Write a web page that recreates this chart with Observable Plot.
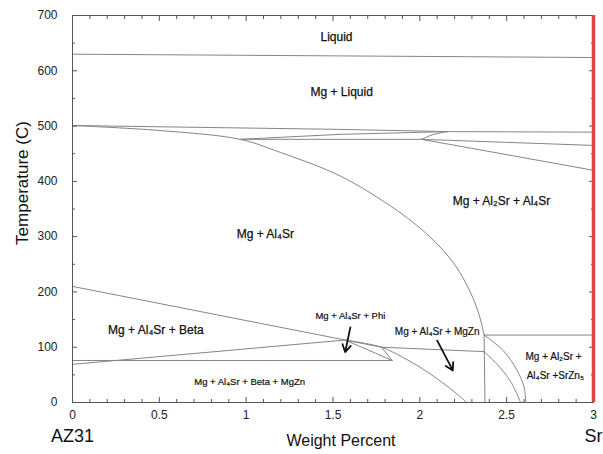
<!DOCTYPE html>
<html><head><meta charset="utf-8">
<script src="https://cdn.jsdelivr.net/npm/d3@7"></script>
<script src="https://cdn.jsdelivr.net/npm/@observablehq/plot@0.6"></script>
<style>
body{margin:0;background:#fff;}
svg{font-family:"Liberation Sans",Arial,"DejaVu Sans",sans-serif;}
</style>
</head><body><div id="chart"></div>
<script>
// ---- axis ticks ----
const xTicks = [0, 0.5, 1, 1.5, 2, 2.5, 3];
const xMinorTicks = [0.1,0.2,0.3,0.4,0.6,0.7,0.8,0.9,1.1,1.2,1.3,1.4,1.6,1.7,1.8,1.9,2.1,2.2,2.3,2.4,2.6,2.7,2.8,2.9];
const yTicks = [0, 100, 200, 300, 400, 500, 600, 700];
const yMinorTicks = [50, 150, 250, 350, 450, 550, 650];
const endLabels = ["AZ31", "Sr"];
const endPositions = [0, 3];
const xTitle = "Weight Percent";
const yTitle = "Temperature (C)";

// ---- phase boundaries [weight %, temperature C] ----
const liquidus = [[0, 630], [3, 624]];
const solidusTop = [[0, 501], [1.54, 494], [2.16, 490], [3, 489]];
const tieUpper = [[0.965, 476], [1.54, 485], [2.16, 490]];
const tie475 = [[0.965, 476], [2.01, 476], [3, 465]];
const connector = [[2.01, 476], [2.08, 485], [2.16, 490]];
const al2srBoundary = [[2.01, 476], [3, 420]];
const al4srSolvus = [[0, 501], [0.5, 492], [0.965, 476], [1.2, 452], [1.54, 410], [1.87, 347], [2.06, 299], [2.2, 250], [2.29, 200], [2.34, 160], [2.363, 132], [2.37, 122]];
const verticalBoundary = [[2.37, 122], [2.375, 0]];
const line122 = [[2.37, 122], [3, 122]];
const betaUpperStraight = [[0, 210], [1.57, 113], [1.78, 100]];
const betaUpperCurve = [[1.57, 113], [1.78, 100], [1.9, 82], [2.0, 64], [2.1, 43], [2.2, 19], [2.27, 0]];
const betaLower = [[0, 69], [1.57, 113]];
const line76 = [[0, 76], [1.84, 76]];
const phiSide = [[1.57, 113], [1.84, 76]];
const mgznSide = [[1.78, 100], [1.84, 76]];
const mgznTop = [[1.78, 100], [2.37, 92]];
const arcOuter = [[2.37, 122], [2.48, 94], [2.56, 58], [2.60, 28], [2.61, 0]];
const arcInner = [[2.37, 92], [2.46, 64], [2.53, 34], [2.58, 0]];

const straightLines = [liquidus, solidusTop, tieUpper, tie475, al2srBoundary, verticalBoundary, line122, betaUpperStraight, betaLower, line76, phiSide, mgznSide, mgznTop];
const curvedLines = [connector, al4srSolvus, betaUpperCurve, arcOuter, arcInner];

// ---- region labels ----
const bigLabels = ["Liquid", "Mg + Liquid", "Mg + Al₄Sr", "Mg + Al₂Sr + Al₄Sr", "Mg + Al₄Sr + Beta"];
const bigLabelX = [1.52, 1.55, 1.11, 2.47, 0.48];
const bigLabelY = [660, 562, 304, 365, 130];
const smallLabels = ["Mg + Al₄Sr + Phi", "Mg + Al₄Sr + MgZn", "Mg + Al₄Sr + Beta + MgZn", "Mg + Al₂Sr +", "Al₄Sr +SrZn₅"];
const smallLabelX = [1.60, 2.10, 1.02, 2.77, 2.78];
const smallLabelY = [156, 127, 38, 82, 48];
const smallLabelSize = [9.5, 10, 9.5, 10, 10];

// ---- arrows ----
const arrowFrom = [[1.60, 136], [2.10, 112]];
const arrowTo = [[1.57, 91], [2.19, 58]];

const bigData = bigLabels.map((t, i) => ({t, x: bigLabelX[i], y: bigLabelY[i]}));
const smallData = smallLabels.map((t, i) => ({t, x: smallLabelX[i], y: smallLabelY[i], s: smallLabelSize[i]}));
const arrowData = arrowFrom.map((a, i) => ({x1: a[0], y1: a[1], x2: arrowTo[i][0], y2: arrowTo[i][1]}));

const lineColor = "#858585";
const marks = [];
straightLines.forEach(l => marks.push(Plot.line(l, {x: d => d[0], y: d => d[1], stroke: lineColor, strokeWidth: 1})));
curvedLines.forEach(l => marks.push(Plot.line(l, {x: d => d[0], y: d => d[1], stroke: lineColor, strokeWidth: 1, curve: "catmull-rom"})));

marks.push(
  Plot.text(bigData, {x: "x", y: "y", text: "t", fontSize: 12, fill: "#111", stroke: "#111", strokeWidth: 0.25}),
  Plot.text(smallData, {x: "x", y: "y", text: "t", fontSize: d => d.s, fill: "#111", stroke: "#111", strokeWidth: 0.2}),
  Plot.arrow(arrowData, {x1: "x1", y1: "y1", x2: "x2", y2: "y2", stroke: "#111", strokeWidth: 1.8, headLength: 7, bend: 0}),
  Plot.frame({stroke: "#555"}),
  // bottom axis
  Plot.axisX(xTicks, {anchor: "bottom", tickSize: -5, tickPadding: 13, fontSize: 12, fill: "#222", stroke: "#555", tickFormat: d => String(d), label: null}),
  Plot.axisX(xMinorTicks, {anchor: "bottom", tickSize: -3, stroke: "#555", tickFormat: () => "", label: null}),
  Plot.axisX(endPositions, {anchor: "bottom", tickSize: 0, tickPadding: 27, fontSize: 18, fill: "#111", tickFormat: (d, i) => endLabels[i], label: null}),
  // top axis
  Plot.axisX(xTicks, {anchor: "top", tickSize: -5, stroke: "#555", tickFormat: () => "", label: null}),
  Plot.axisX(xMinorTicks, {anchor: "top", tickSize: -3, stroke: "#555", tickFormat: () => "", label: null}),
  // left axis
  Plot.axisY(yTicks, {anchor: "left", tickSize: -5, tickPadding: 20, fontSize: 12, fill: "#222", stroke: "#555", label: null}),
  Plot.axisY(yMinorTicks, {anchor: "left", tickSize: -3, stroke: "#555", tickFormat: () => "", label: null}),
  // right axis
  Plot.axisY(yTicks, {anchor: "right", tickSize: -5, stroke: "#555", tickFormat: () => "", label: null}),
  Plot.axisY(yMinorTicks, {anchor: "right", tickSize: -3, stroke: "#555", tickFormat: () => "", label: null}),
  Plot.ruleX([3], {stroke: "#d9473f", strokeWidth: 3.5})
);

const chart = Plot.plot({
  width: 603, height: 454,
  marginTop: 15, marginBottom: 52, marginLeft: 72, marginRight: 10,
  style: {fontFamily: "'Liberation Sans', Arial, 'DejaVu Sans', sans-serif", fontSize: "12px", color: "#222", background: "white", overflow: "visible"},
  x: {domain: [0, 3]},
  y: {domain: [0, 700]},
  marks
});
document.getElementById("chart").appendChild(chart);

// axis titles
const svg = d3.select(chart);
svg.append("text")
  .attr("x", 341).attr("y", 446)
  .attr("text-anchor", "middle")
  .attr("font-size", 16).attr("fill", "#111")
  .text(xTitle);
svg.append("text")
  .attr("transform", "translate(28,183) rotate(-90)")
  .attr("text-anchor", "middle")
  .attr("font-size", 17).attr("fill", "#111")
  .text(yTitle);
</script>
</body></html>
